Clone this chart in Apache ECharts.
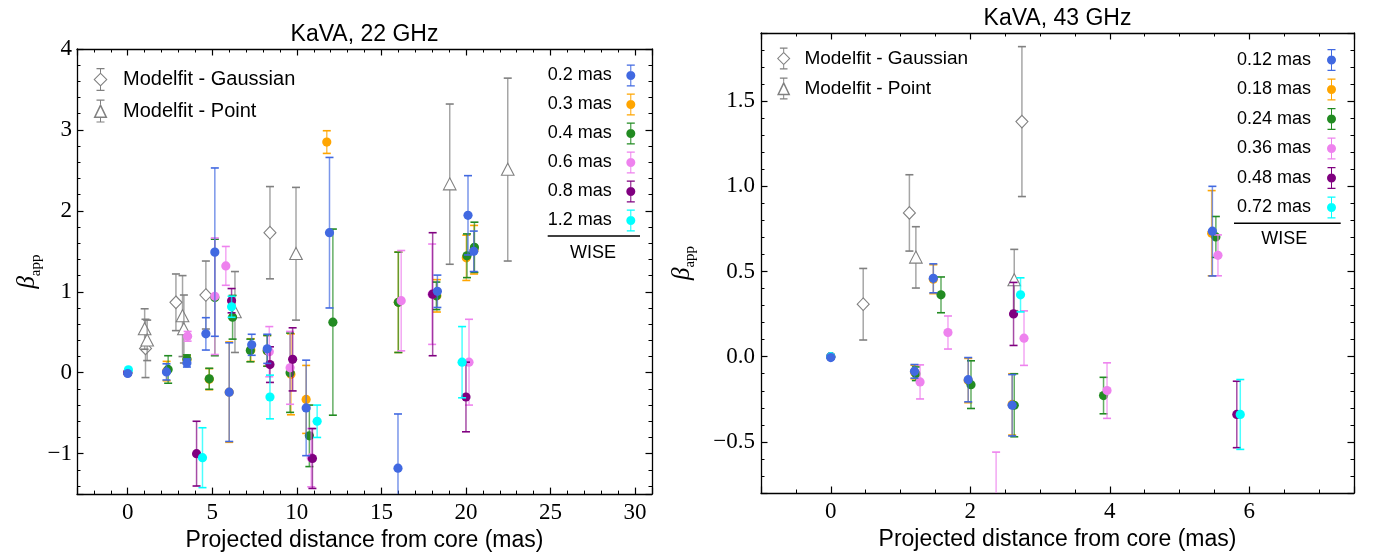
<!DOCTYPE html>
<html><head><meta charset="utf-8">
<script src="https://cdn.jsdelivr.net/npm/echarts@6/dist/echarts.min.js"></script>
<style>html,body{margin:0;padding:0;background:#fff}#c{width:1377px;height:557px}</style>
</head><body><div id="c"></div>
<script>
// ---------- DATA: [x (mas), beta_app, error] ----------
// KaVA 22 GHz
const k22_gauss = [[1.05,0.30,0.36],[2.85,0.87,0.35],[4.62,0.96,0.42],[8.41,1.73,0.57]];
const k22_point = [[1.0,0.54,0.25],[1.15,0.40,0.25],[3.24,0.70,0.50],[3.32,0.54,0.42],[6.34,0.75,0.50],[9.95,1.47,0.82],[19.04,2.33,0.99],[22.47,2.51,1.13]];
const k22_mas02 = [[0,-0.01,0],[2.29,0.01,0.10],[3.5,0.12,0.05],[4.62,0.48,0.20],[5.15,1.49,1.04],[6.0,-0.24,0.61],[7.33,0.345,0.13],[8.25,0.295,0.18],[10.55,-0.435,0.59],[11.93,1.73,0.93],[15.98,-1.18,0.67],[18.31,1.006,0.20],[20.12,1.945,0.49],[20.46,1.50,0.25]];
const k22_mas03 = [[0,0,0],[2.3,0.02,0.12],[3.5,0.16,0.05],[4.82,-0.08,0.13],[6.0,-0.24,0.62],[7.28,0.28,0.14],[8.25,0.27,0.19],[9.65,-0.02,0.50],[10.55,-0.33,0.42],[11.77,2.85,0.14],[16.0,0.87,0.62],[18.28,0.95,0.20],[20.02,1.42,0.28],[20.48,1.52,0.30]];
const k22_mas04 = [[0,0,0],[2.39,0.04,0.17],[3.5,0.17,0.05],[4.82,-0.075,0.13],[5.15,0.93,0.72],[6.2,0.685,0.27],[7.25,0.275,0.14],[8.25,0.27,0.19],[9.6,0.0,0.49],[10.74,-0.78,0.38],[12.13,0.625,1.15],[16.0,0.87,0.62],[18.25,0.95,0.17],[20.06,1.445,0.27],[20.5,1.55,0.31]];
const k22_mas06 = [[0,0,0],[3.54,0.45,0.06],[5.15,0.945,0.72],[5.8,1.32,0.24],[8.37,0.26,0.31],[9.6,0.06,0.45],[10.85,-1.05,0.36],[16.17,0.89,0.62],[18.0,0.97,0.62],[20.18,0.13,0.53]];
const k22_mas08 = [[0,0,0],[4.07,-1.0,0.40],[6.14,0.89,0.15],[8.41,0.10,0.22],[9.75,0.165,0.39],[10.92,-1.06,0.37],[18.03,0.97,0.76],[20.0,-0.30,0.43]];
const k22_mas12 = [[0.04,0.035,0],[4.42,-1.05,0.37],[6.14,0.815,0.13],[8.41,-0.30,0.27],[11.2,-0.60,0.20],[19.77,0.13,0.44]];
// KaVA 43 GHz
const k43_gauss = [[0.465,0.308,0.21],[1.127,0.844,0.224],[2.74,1.38,0.44]];
const k43_point = [[1.22,0.583,0.18],[2.63,0.45,0.18]];
const k43_mas012 = [[0,-0.005,0],[1.2,-0.086,0.04],[1.47,0.46,0.085],[1.97,-0.135,0.13],[2.6,-0.285,0.18],[5.47,0.737,0.263]];
const k43_mas018 = [[0,0,0],[1.2,-0.09,0.04],[1.47,0.455,0.085],[1.97,-0.14,0.13],[2.6,-0.28,0.18],[5.46,0.725,0.25]];
const k43_mas024 = [[0,0,0],[1.22,-0.10,0.04],[1.58,0.363,0.105],[2.01,-0.164,0.14],[2.63,-0.285,0.185],[3.91,-0.228,0.107],[5.52,0.703,0.12]];
const k43_mas036 = [[0,0,0],[1.28,-0.148,0.10],[1.68,0.142,0.097],[2.37,-0.95,0.39],[2.77,0.109,0.16],[3.96,-0.199,0.163],[5.55,0.595,0.12]];
const k43_mas048 = [[0,0,0],[2.62,0.251,0.185],[5.82,-0.339,0.195]];
const k43_mas072 = [[0,0,0],[2.72,0.363,0.10],[5.87,-0.339,0.205]];
// tick labels
const k22_xticks = [0,5,10,15,20,25,30];
const k22_yticks = [-1,0,1,2,3,4];
const k43_xticks = [0,2,4,6];
const k43_yticks = [-0.5,0,0.5,1.0,1.5];
const k22_names = ['0.2 mas','0.3 mas','0.4 mas','0.6 mas','0.8 mas','1.2 mas'];
const k43_names = ['0.12 mas','0.18 mas','0.24 mas','0.36 mas','0.48 mas','0.72 mas'];

// ---------- STYLE ----------
const C = {blue:'#4169E1', orange:'#FFA500', green:'#228B22', violet:'#EE82EE', purple:'#800080', cyan:'#00FFFF', gray:'#808080'};
const SANS = '"Liberation Sans", Arial, sans-serif';
const SERIF = '"Liberation Serif", "DejaVu Serif", serif';

const ICON_CIRCLE = 'path://M1,0L17,0L17,2.6L1,2.6Z M1,41.4L17,41.4L17,44L1,44Z M8,2.6L10,2.6L10,41.4L8,41.4Z M0,22A9,9,0,1,1,18,22A9,9,0,1,1,0,22Z';
const ICON_DIAMOND = 'path://M7,0L23,0L23,2.4L7,2.4Z M7,43.6L23,43.6L23,46L7,46Z M14,2.4L16,2.4L16,9.5L14,9.5Z M14,36.5L16,36.5L16,43.6L14,43.6Z M15,9L29,23L15,37L1,23Z M15,12L4,23L15,34L26,23Z';
const ICON_TRI = 'path://M7,0L23,0L23,2.4L7,2.4Z M7,43.6L23,43.6L23,46L7,46Z M14,2.4L16,2.4L16,9L14,9Z M14,37L16,37L16,43.6L14,43.6Z M15,8L29,37L1,37Z M15,14.9L5.8,34L24.2,34Z';

function renderFactory(color, marker) {
  return function (params, api) {
    const cs = params.coordSys;
    const top = cs.y, bot = cs.y + cs.height;
    const x = api.value(0), y = api.value(1), e = api.value(2);
    const p = api.coord([x, y]);
    const ch = [];
    const cw = 4;
    if (e > 0) {
      const yt = api.coord([x, y + e])[1], yb = api.coord([x, y - e])[1];
      const s1 = Math.max(yt, top), s2 = Math.min(yb, bot);
      if (s2 > s1) ch.push({type:'line', shape:{x1:p[0], y1:s1, x2:p[0], y2:s2}, style:{stroke:color, lineWidth:1.5, opacity:0.7}});
      [yt, yb].forEach(function (yy) {
        if (yy >= top - 0.5 && yy <= bot + 0.5) ch.push({type:'line', shape:{x1:p[0]-cw, y1:yy, x2:p[0]+cw, y2:yy}, style:{stroke:color, lineWidth:1.6}});
      });
    }
    if (p[1] >= top - 1 && p[1] <= bot + 1) {
      if (marker === 'circle') {
        ch.push({type:'circle', shape:{cx:p[0], cy:p[1], r:4.6}, style:{fill:color}});
      } else if (marker === 'diamond') {
        ch.push({type:'polygon', shape:{points:[[p[0],p[1]-6.3],[p[0]+6,p[1]],[p[0],p[1]+6.3],[p[0]-6,p[1]]]}, style:{fill:'#fff', stroke:color, lineWidth:1.1}});
      } else {
        ch.push({type:'polygon', shape:{points:[[p[0],p[1]-6.3],[p[0]+6.3,p[1]+5.7],[p[0]-6.3,p[1]+5.7]]}, style:{fill:'#fff', stroke:color, lineWidth:1.1}});
      }
    }
    return {type:'group', children: ch};
  };
}

// panel 0 -> axes 0 (bottom/left); panel 1 -> axes 2 (bottom/left)
function errSeries(name, data, color, marker, panel) {
  return {
    type:'custom', name: name, data: data, xAxisIndex: panel * 2, yAxisIndex: panel * 2,
    itemStyle:{color: color}, encode:{x:0, y:1}, dimensions:['x','y','err'],
    renderItem: renderFactory(color, marker), silent: true
  };
}

function fmtInt(v){ return v < 0 ? '\u2212' + Math.abs(v) : String(v); }
function fmt1(v){ const s = Math.abs(v).toFixed(1); return v < -1e-9 ? '\u2212' + s : s; }
function labeler(list, f){ return function (v) { return list.some(function (t) { return Math.abs(t - v) < 1e-6; }) ? f(v) : ''; }; }

function valAxis(opts) {
  return Object.assign({
    type:'value', splitLine:{show:false},
    axisLine:{show:true, onZero:false, lineStyle:{color:'#000', width:1.3}},
    axisTick:{show:true, inside:true, length:6.5, lineStyle:{color:'#000', width:1.2}},
    minorTick:{show:true, length:3.5, lineStyle:{color:'#000', width:1}},
    axisLabel:{show:false}
  }, opts);
}

const betaName = '{b|\u03b2}{s|app}';
const betaRich = {
  b:{fontFamily:SERIF, fontStyle:'italic', fontSize:25, lineHeight:32, color:'#000'},
  s:{fontFamily:SERIF, fontSize:15, lineHeight:15, verticalAlign:'bottom', color:'#000'}
};
const xName = 'Projected distance from core (mas)';
const xNameStyle = {fontFamily:SANS, fontSize:23, color:'#000'};
const minor = function (n) { return {show:true, splitNumber:n, length:3.5, lineStyle:{color:'#000', width:1}}; };

const xAxes = [
  valAxis({gridIndex:0, position:'bottom', min:-3, max:31, minInterval:5, maxInterval:5, splitNumber:7, minorTick:minor(5),
    axisLabel:{show:true, margin:7, fontFamily:SERIF, fontSize:23, color:'#000', showMinLabel:false, showMaxLabel:false, formatter:labeler(k22_xticks, fmtInt)},
    name:xName, nameLocation:'middle', nameGap:26, nameTextStyle:xNameStyle}),
  valAxis({gridIndex:0, position:'top', min:-3, max:31, minInterval:5, maxInterval:5, splitNumber:7, minorTick:minor(5)}),
  valAxis({gridIndex:1, position:'bottom', min:-1, max:7.5, minInterval:2, maxInterval:2, splitNumber:4, minorTick:minor(4),
    axisLabel:{show:true, margin:7, fontFamily:SERIF, fontSize:23, color:'#000', showMinLabel:false, showMaxLabel:false, formatter:labeler(k43_xticks, fmtInt)},
    name:xName, nameLocation:'middle', nameGap:26, nameTextStyle:xNameStyle}),
  valAxis({gridIndex:1, position:'top', min:-1, max:7.5, minInterval:2, maxInterval:2, splitNumber:4, minorTick:minor(4)})
];
const yAxes = [
  valAxis({gridIndex:0, position:'left', min:-1.5, max:4, minInterval:1, maxInterval:1, splitNumber:6, minorTick:minor(5),
    axisLabel:{show:true, margin:5, fontFamily:SERIF, fontSize:23, color:'#000', showMinLabel:false, showMaxLabel:true, formatter:labeler(k22_yticks, fmtInt)},
    name:betaName, nameLocation:'middle', nameGap:23, nameRotate:90, nameTextStyle:{rich:betaRich}}),
  valAxis({gridIndex:0, position:'right', min:-1.5, max:4, minInterval:1, maxInterval:1, splitNumber:6, minorTick:minor(5)}),
  valAxis({gridIndex:1, position:'left', min:-0.8, max:1.9, minInterval:0.5, maxInterval:0.5, splitNumber:5, minorTick:minor(5),
    axisLabel:{show:true, margin:6, fontFamily:SERIF, fontSize:23, color:'#000', showMinLabel:false, showMaxLabel:false, formatter:labeler(k43_yticks, fmt1)},
    name:betaName, nameLocation:'middle', nameGap:63, nameRotate:90, nameTextStyle:{rich:betaRich}}),
  valAxis({gridIndex:1, position:'right', min:-0.8, max:1.9, minInterval:0.5, maxInterval:0.5, splitNumber:5, minorTick:minor(5)})
];

const k22_sets = [k22_mas02, k22_mas03, k22_mas04, k22_mas06, k22_mas08, k22_mas12];
const k43_sets = [k43_mas012, k43_mas018, k43_mas024, k43_mas036, k43_mas048, k43_mas072];
const colorList = [C.blue, C.orange, C.green, C.violet, C.purple, C.cyan];
const drawOrder = [1, 2, 3, 4, 5, 0]; // orange, green, violet, purple, cyan, blue on top

const series = [
  errSeries('Modelfit - Gaussian', k22_gauss, C.gray, 'diamond', 0),
  errSeries('Modelfit - Point', k22_point, C.gray, 'triangle', 0),
  errSeries('Modelfit - Gaussian', k43_gauss, C.gray, 'diamond', 1),
  errSeries('Modelfit - Point', k43_point, C.gray, 'triangle', 1)
];
drawOrder.forEach(function (i) { series.push(errSeries(k22_names[i], k22_sets[i], colorList[i], 'circle', 0)); });
drawOrder.forEach(function (i) { series.push(errSeries(k43_names[i], k43_sets[i], colorList[i], 'circle', 1)); });

function legendCommon(o) {
  return Object.assign({orient:'vertical', padding:0, selectedMode:false, itemStyle:{borderWidth:0},
    textStyle:{fontFamily:SANS, fontSize:18, color:'#000'}}, o);
}
const legends = [
  legendCommon({left:93.5, top:68, itemWidth:35, itemHeight:23, itemGap:8.6, textStyle:{fontFamily:SANS, fontSize:20, color:'#000'},
    data:[{name:'Modelfit - Gaussian', icon:ICON_DIAMOND}, {name:'Modelfit - Point', icon:ICON_TRI}]}),
  legendCommon({align:'right', right:741.7, top:64.5, itemWidth:28, itemHeight:22, itemGap:7,
    data:k22_names.map(function (n) { return {name:n, icon:ICON_CIRCLE}; })}),
  legendCommon({left:777, top:47.5, itemWidth:31.4, itemHeight:22, itemGap:8, textStyle:{fontFamily:SANS, fontSize:19, color:'#000'},
    data:[{name:'Modelfit - Gaussian', icon:ICON_DIAMOND}, {name:'Modelfit - Point', icon:ICON_TRI}]}),
  legendCommon({align:'right', right:41, top:49, itemWidth:31, itemHeight:22, itemGap:7.5,
    data:k43_names.map(function (n) { return {name:n, icon:ICON_CIRCLE}; })})
];

const graphic = [
  {type:'text', x:364.5, y:35, style:{text:'KaVA, 22 GHz', fontFamily:SANS, fontSize:23, fill:'#000', textAlign:'center', textVerticalAlign:'middle'}},
  {type:'text', x:1057.5, y:18.5, style:{text:'KaVA, 43 GHz', fontFamily:SANS, fontSize:23, fill:'#000', textAlign:'center', textVerticalAlign:'middle'}},
  {type:'line', shape:{x1:547.7, y1:236, x2:640, y2:236}, style:{stroke:'#000', lineWidth:1.4}},
  {type:'text', x:593, y:253.5, style:{text:'WISE', fontFamily:SANS, fontSize:18, fill:'#000', textAlign:'center', textVerticalAlign:'middle'}},
  {type:'line', shape:{x1:1234, y1:223.3, x2:1340.7, y2:223.3}, style:{stroke:'#000', lineWidth:1.4}},
  {type:'text', x:1284.3, y:239.5, style:{text:'WISE', fontFamily:SANS, fontSize:18, fill:'#000', textAlign:'center', textVerticalAlign:'middle'}}
];

const chart = echarts.init(document.getElementById('c'), null, {renderer:'canvas'});
chart.setOption({
  animation:false,
  backgroundColor:'#fff',
  grid:[
    {left:77, top:49, width:575, height:447, containLabel:false},
    {left:761, top:33, width:593, height:460, containLabel:false}
  ],
  xAxis: xAxes,
  yAxis: yAxes,
  legend: legends,
  graphic: graphic,
  series: series
});
</script></body></html>
